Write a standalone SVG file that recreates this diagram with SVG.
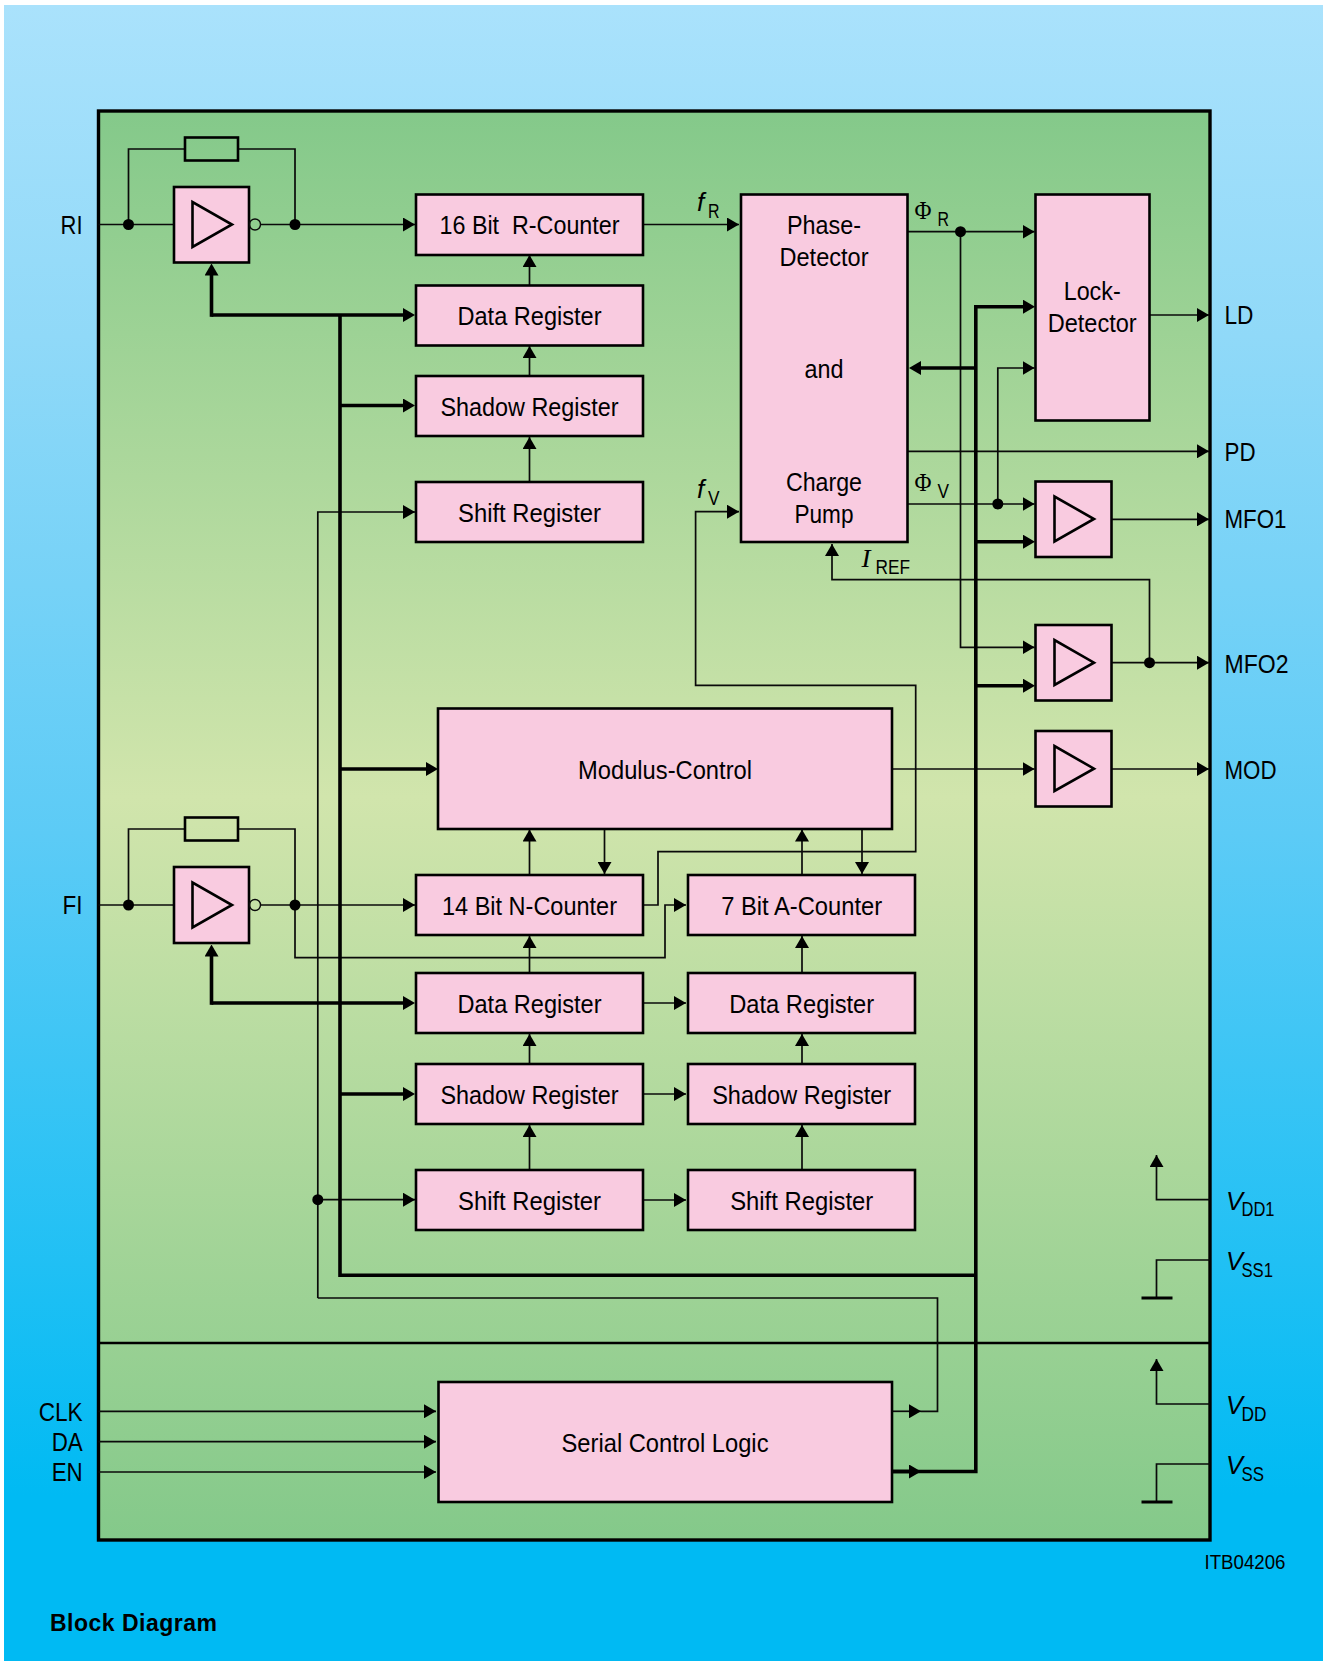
<svg xmlns="http://www.w3.org/2000/svg" width="1323" height="1661" viewBox="0 0 1323 1661">
<style>
.box{fill:#f9cbe0;stroke:#000;stroke-width:2.6}
.tri{fill:none;stroke:#000;stroke-width:2.6}
.w{fill:none;stroke:#0a0a0a;stroke-width:1.7}
.t{fill:none;stroke:#000;stroke-width:3.6}
.dot{fill:#000}
text{font-family:"Liberation Sans",Arial,sans-serif;font-size:26px;fill:#000;white-space:pre}
.c{text-anchor:middle}
.e{text-anchor:end}
.sub{font-size:20px}
.i{font-style:italic}
.sym{font-family:"Liberation Serif","Times New Roman",serif;font-size:26px}
</style>
<defs>
<linearGradient id="bg" x1="0" y1="0" x2="0" y2="1">
<stop offset="0" stop-color="#aae2fc"/><stop offset="0.2" stop-color="#90d9f8"/><stop offset="0.5" stop-color="#5ccbf6"/><stop offset="0.9" stop-color="#00baf3"/><stop offset="1" stop-color="#00baf3"/>
</linearGradient>
<linearGradient id="panel" x1="0" y1="0" x2="0" y2="1">
<stop offset="0" stop-color="#84c98a"/><stop offset="0.48" stop-color="#d1e5ac"/><stop offset="1" stop-color="#84c98a"/>
</linearGradient>
<marker id="a" viewBox="0 0 12 14" markerWidth="12" markerHeight="14" refX="12" refY="7" orient="auto" markerUnits="userSpaceOnUse"><path d="M0 0L12 7L0 14Z" fill="#000"/></marker>
<marker id="b" viewBox="0 0 12 14" markerWidth="12" markerHeight="14" refX="7" refY="7" orient="auto" markerUnits="userSpaceOnUse"><path d="M0 0L12 7L0 14Z" fill="#000"/></marker>
</defs>
<rect x="4" y="5" width="1319" height="1656" fill="url(#bg)"/>
<g id="panel-frame">
<rect x="98.5" y="111" width="1111.5" height="1429" fill="url(#panel)" stroke="#000" stroke-width="3.4"/>
<path d="M98.5 1343H1210" fill="none" stroke="#000" stroke-width="2.6"/>
</g>
<g id="connectors">
<path class="w" d="M98.5 224.5H174"/>
<path class="w" d="M128.5 224.5V149H185"/>
<path class="w" d="M238 149H295V224.5"/>
<path class="w" d="M260 224.5H415" marker-end="url(#a)"/>
<path class="w" d="M529.5 285V255" marker-end="url(#a)"/>
<path class="w" d="M529.5 376V346" marker-end="url(#a)"/>
<path class="w" d="M529.5 482V437" marker-end="url(#a)"/>
<path class="w" d="M643 224.5H739" marker-end="url(#a)"/>
<path class="w" d="M317.8 1298V512H415" marker-end="url(#a)"/>
<path class="w" d="M317.8 1199.7H415" marker-end="url(#a)"/>
<path class="w" d="M317.8 1298H937.5V1411.3H921"/>
<path class="w" d="M892 1411.3H921" marker-end="url(#a)"/>
<path class="w" d="M98.5 905H174"/>
<path class="w" d="M128.5 905V829H185"/>
<path class="w" d="M238 829H295V905"/>
<path class="w" d="M260 905H415" marker-end="url(#a)"/>
<path class="w" d="M295 905V957.7H665V905H686" marker-end="url(#a)"/>
<path class="w" d="M643 905H658V851.7H915.7V685.3H695.6V511.7H739" marker-end="url(#a)"/>
<path class="w" d="M529.5 875V829.5" marker-end="url(#a)"/>
<path class="w" d="M604.5 829V874" marker-end="url(#a)"/>
<path class="w" d="M802 875V829.5" marker-end="url(#a)"/>
<path class="w" d="M862 829V874" marker-end="url(#a)"/>
<path class="w" d="M529.5 973V936" marker-end="url(#a)"/>
<path class="w" d="M529.5 1064V1034" marker-end="url(#a)"/>
<path class="w" d="M529.5 1170V1125" marker-end="url(#a)"/>
<path class="w" d="M802 973V936" marker-end="url(#a)"/>
<path class="w" d="M802 1064V1034" marker-end="url(#a)"/>
<path class="w" d="M802 1170V1125" marker-end="url(#a)"/>
<path class="w" d="M643 1003H686" marker-end="url(#a)"/>
<path class="w" d="M643 1094H686" marker-end="url(#a)"/>
<path class="w" d="M643 1200H686" marker-end="url(#a)"/>
<path class="w" d="M892 769H1034.5" marker-end="url(#a)"/>
<path class="w" d="M1112 769H1209" marker-end="url(#a)"/>
<path class="w" d="M908 231.7H1034.5" marker-end="url(#a)"/>
<path class="w" d="M960.5 231.7V647.3H1034.5" marker-end="url(#a)"/>
<path class="w" d="M908 504H1034.5" marker-end="url(#a)"/>
<path class="w" d="M997.8 504V368H1034.5" marker-end="url(#a)"/>
<path class="w" d="M908 451.3H1209" marker-end="url(#a)"/>
<path class="w" d="M1150 315H1209" marker-end="url(#a)"/>
<path class="w" d="M1112 519.3H1209" marker-end="url(#a)"/>
<path class="w" d="M1112 662.7H1209" marker-end="url(#a)"/>
<path class="w" d="M1149.5 662.7V579.7H832V544" marker-end="url(#a)"/>
<path class="w" d="M98.5 1411.3H436" marker-end="url(#a)"/>
<path class="w" d="M98.5 1441.7H436" marker-end="url(#a)"/>
<path class="w" d="M98.5 1472H436" marker-end="url(#a)"/>
<path class="w" d="M1210 1199.7H1156.5V1155" marker-end="url(#a)"/>
<path class="w" d="M1210 1260H1156.5V1298"/>
<path class="w" d="M1210 1404H1156.5V1359" marker-end="url(#a)"/>
<path class="w" d="M1210 1464H1156.5V1502"/>
<path class="t" style="stroke-width:3" d="M1141.5 1298H1172.5M1141.5 1502H1172.5"/>
<path class="t" d="M211.5 315H410" marker-end="url(#b)"/>
<path class="t" d="M211.5 316.8V268.5" marker-end="url(#b)"/>
<path class="t" d="M340 315V1275.3H975.8"/>
<path class="t" d="M340 405.5H410" marker-end="url(#b)"/>
<path class="t" d="M340 769H433" marker-end="url(#b)"/>
<path class="t" d="M211.5 1003H410" marker-end="url(#b)"/>
<path class="t" d="M211.5 1004.8V949.5" marker-end="url(#b)"/>
<path class="t" d="M340 1094H410" marker-end="url(#b)"/>
<path class="t" d="M892 1471.5H975.8V306.7H1030" marker-end="url(#b)"/>
<path class="t" d="M975.8 368H914" marker-end="url(#b)"/>
<path class="t" d="M975.8 541.7H1030" marker-end="url(#b)"/>
<path class="t" d="M975.8 685.7H1030" marker-end="url(#b)"/>
<path class="t" d="M892 1471.5H916" marker-end="url(#b)"/>
<circle class="dot" cx="128.5" cy="224.5" r="5.5"/>
<circle class="dot" cx="295" cy="224.5" r="5.5"/>
<circle class="dot" cx="128.5" cy="905" r="5.5"/>
<circle class="dot" cx="295" cy="905" r="5.5"/>
<circle class="dot" cx="317.8" cy="1199.7" r="5.5"/>
<circle class="dot" cx="960.5" cy="231.7" r="5.5"/>
<circle class="dot" cx="997.8" cy="504" r="5.5"/>
<circle class="dot" cx="1149.5" cy="662.7" r="5.5"/>
</g>
<g id="amp-ri"><rect class="box" x="174" y="187" width="75" height="75.5"/><path class="tri" d="M192.5 202V247L232 224.5Z"/><circle cx="255" cy="224.5" r="5.5" fill="none" stroke="#0a0a0a" stroke-width="1.4"/></g>
<g id="res-ri"><rect x="185" y="137.5" width="53" height="23" fill="none" stroke="#000" stroke-width="2.6"/></g>
<g id="r-counter"><rect class="box" x="416" y="194.5" width="227" height="60.5"/><text class="c" x="529.5" y="234" textLength="180" lengthAdjust="spacingAndGlyphs">16 Bit  R-Counter</text></g>
<g id="data-r"><rect class="box" x="416" y="285.5" width="227" height="60"/><text class="c" x="529.5" y="325" textLength="144" lengthAdjust="spacingAndGlyphs">Data Register</text></g>
<g id="shadow-r"><rect class="box" x="416" y="376" width="227" height="60"/><text class="c" x="529.5" y="415.5" textLength="178" lengthAdjust="spacingAndGlyphs">Shadow Register</text></g>
<g id="shift-r"><rect class="box" x="416" y="482" width="227" height="60"/><text class="c" x="529.5" y="521.5" textLength="143" lengthAdjust="spacingAndGlyphs">Shift Register</text></g>
<g id="phase-detector"><rect class="box" x="741" y="194.5" width="166.5" height="347.5"/>
<text class="c" x="824" y="234" textLength="74" lengthAdjust="spacingAndGlyphs">Phase-</text>
<text class="c" x="824" y="266" textLength="89" lengthAdjust="spacingAndGlyphs">Detector</text>
<text class="c" x="824" y="377.7" textLength="39" lengthAdjust="spacingAndGlyphs">and</text>
<text class="c" x="824" y="490.7" textLength="76" lengthAdjust="spacingAndGlyphs">Charge</text>
<text class="c" x="824" y="522.7" textLength="59" lengthAdjust="spacingAndGlyphs">Pump</text></g>
<g id="lock-detector"><rect class="box" x="1035.5" y="194.5" width="114" height="226"/>
<text class="c" x="1092.2" y="299.5" textLength="57" lengthAdjust="spacingAndGlyphs">Lock-</text>
<text class="c" x="1092.2" y="332" textLength="89" lengthAdjust="spacingAndGlyphs">Detector</text></g>
<g id="amp-mfo1"><rect class="box" x="1035.5" y="481.5" width="76" height="75.5"/><path class="tri" d="M1054.5 496.5V541.5L1094 519Z"/></g>
<g id="amp-mfo2"><rect class="box" x="1035.5" y="625" width="76" height="75.5"/><path class="tri" d="M1054.5 640V685L1094 662.7Z"/></g>
<g id="amp-mod"><rect class="box" x="1035.5" y="731" width="76" height="75.5"/><path class="tri" d="M1054.5 746V791L1094 768.7Z"/></g>
<g id="modulus-control"><rect class="box" x="438" y="708.5" width="454" height="120.5"/><text class="c" x="665" y="778.7" textLength="174" lengthAdjust="spacingAndGlyphs">Modulus-Control</text></g>
<g id="amp-fi"><rect class="box" x="174" y="867" width="75" height="76"/><path class="tri" d="M192.5 882.5V927.5L232 905Z"/><circle cx="255" cy="905" r="5.5" fill="none" stroke="#0a0a0a" stroke-width="1.4"/></g>
<g id="res-fi"><rect x="185" y="817.5" width="53" height="23" fill="none" stroke="#000" stroke-width="2.6"/></g>
<g id="n-counter"><rect class="box" x="416" y="875" width="227" height="60"/><text class="c" x="529.5" y="915" textLength="175" lengthAdjust="spacingAndGlyphs">14 Bit N-Counter</text></g>
<g id="a-counter"><rect class="box" x="688" y="875" width="227" height="60"/><text class="c" x="801.7" y="915" textLength="161" lengthAdjust="spacingAndGlyphs">7 Bit A-Counter</text></g>
<g id="data-n"><rect class="box" x="416" y="973" width="227" height="60"/><text class="c" x="529.5" y="1012.7" textLength="144" lengthAdjust="spacingAndGlyphs">Data Register</text></g>
<g id="data-a"><rect class="box" x="688" y="973" width="227" height="60"/><text class="c" x="801.7" y="1012.7" textLength="145" lengthAdjust="spacingAndGlyphs">Data Register</text></g>
<g id="shadow-n"><rect class="box" x="416" y="1064" width="227" height="60"/><text class="c" x="529.5" y="1103.5" textLength="178" lengthAdjust="spacingAndGlyphs">Shadow Register</text></g>
<g id="shadow-a"><rect class="box" x="688" y="1064" width="227" height="60"/><text class="c" x="801.7" y="1103.5" textLength="179" lengthAdjust="spacingAndGlyphs">Shadow Register</text></g>
<g id="shift-n"><rect class="box" x="416" y="1170" width="227" height="60"/><text class="c" x="529.5" y="1209.5" textLength="143" lengthAdjust="spacingAndGlyphs">Shift Register</text></g>
<g id="shift-a"><rect class="box" x="688" y="1170" width="227" height="60"/><text class="c" x="801.7" y="1209.5" textLength="143" lengthAdjust="spacingAndGlyphs">Shift Register</text></g>
<g id="serial-control"><rect class="box" x="438.5" y="1382" width="453.5" height="120"/><text class="c" x="665" y="1451.7" textLength="207" lengthAdjust="spacingAndGlyphs">Serial Control Logic</text></g>
<g id="labels">
<text class="e" x="82.5" y="234" textLength="22" lengthAdjust="spacingAndGlyphs">RI</text>
<text class="e" x="82.5" y="914" textLength="20" lengthAdjust="spacingAndGlyphs">FI</text>
<text class="e" x="82.7" y="1420.7" textLength="44" lengthAdjust="spacingAndGlyphs">CLK</text>
<text class="e" x="82.7" y="1451.2" textLength="31" lengthAdjust="spacingAndGlyphs">DA</text>
<text class="e" x="82.7" y="1481.2" textLength="31" lengthAdjust="spacingAndGlyphs">EN</text>
<text x="1224.5" y="324" textLength="29" lengthAdjust="spacingAndGlyphs">LD</text>
<text x="1224.5" y="460.7" textLength="31" lengthAdjust="spacingAndGlyphs">PD</text>
<text x="1224.5" y="528.3" textLength="62" lengthAdjust="spacingAndGlyphs">MFO1</text>
<text x="1224.5" y="672.7" textLength="64" lengthAdjust="spacingAndGlyphs">MFO2</text>
<text x="1224.5" y="778.7" textLength="52" lengthAdjust="spacingAndGlyphs">MOD</text>
<text class="i" x="697" y="211">f</text>
<text class="sub" x="708" y="217.7" textLength="11.5" lengthAdjust="spacingAndGlyphs">R</text>
<text class="i" x="697" y="498">f</text>
<text class="sub" x="708" y="505" textLength="11.5" lengthAdjust="spacingAndGlyphs">V</text>
<text class="sym" x="914.5" y="219.3" textLength="17" lengthAdjust="spacingAndGlyphs">Φ</text>
<text class="sub" x="937.5" y="225.7" textLength="11.5" lengthAdjust="spacingAndGlyphs">R</text>
<text class="sym" x="914.5" y="490.7" textLength="17" lengthAdjust="spacingAndGlyphs">Φ</text>
<text class="sub" x="937.5" y="497.7" textLength="11.5" lengthAdjust="spacingAndGlyphs">V</text>
<text class="sym i" x="861.5" y="566.7" textLength="9" lengthAdjust="spacingAndGlyphs">I</text>
<text class="sub" x="875.5" y="574" textLength="34.5" lengthAdjust="spacingAndGlyphs">REF</text>
<text class="i" x="1226" y="1210" textLength="17" lengthAdjust="spacingAndGlyphs">V</text>
<text class="sub" x="1241.5" y="1216" textLength="33" lengthAdjust="spacingAndGlyphs">DD1</text>
<text class="i" x="1226" y="1270" textLength="17" lengthAdjust="spacingAndGlyphs">V</text>
<text class="sub" x="1241.5" y="1276.7" textLength="31.5" lengthAdjust="spacingAndGlyphs">SS1</text>
<text class="i" x="1226" y="1414" textLength="17" lengthAdjust="spacingAndGlyphs">V</text>
<text class="sub" x="1241.5" y="1420.7" textLength="25" lengthAdjust="spacingAndGlyphs">DD</text>
<text class="i" x="1226" y="1474" textLength="17" lengthAdjust="spacingAndGlyphs">V</text>
<text class="sub" x="1241.5" y="1480.7" textLength="22.5" lengthAdjust="spacingAndGlyphs">SS</text>
<text class="sub" x="1204.5" y="1569.3" textLength="81" lengthAdjust="spacingAndGlyphs">ITB04206</text>
<text x="50" y="1631" style="font-size:23px;font-weight:bold" textLength="167">Block Diagram</text>
</g>
</svg>
